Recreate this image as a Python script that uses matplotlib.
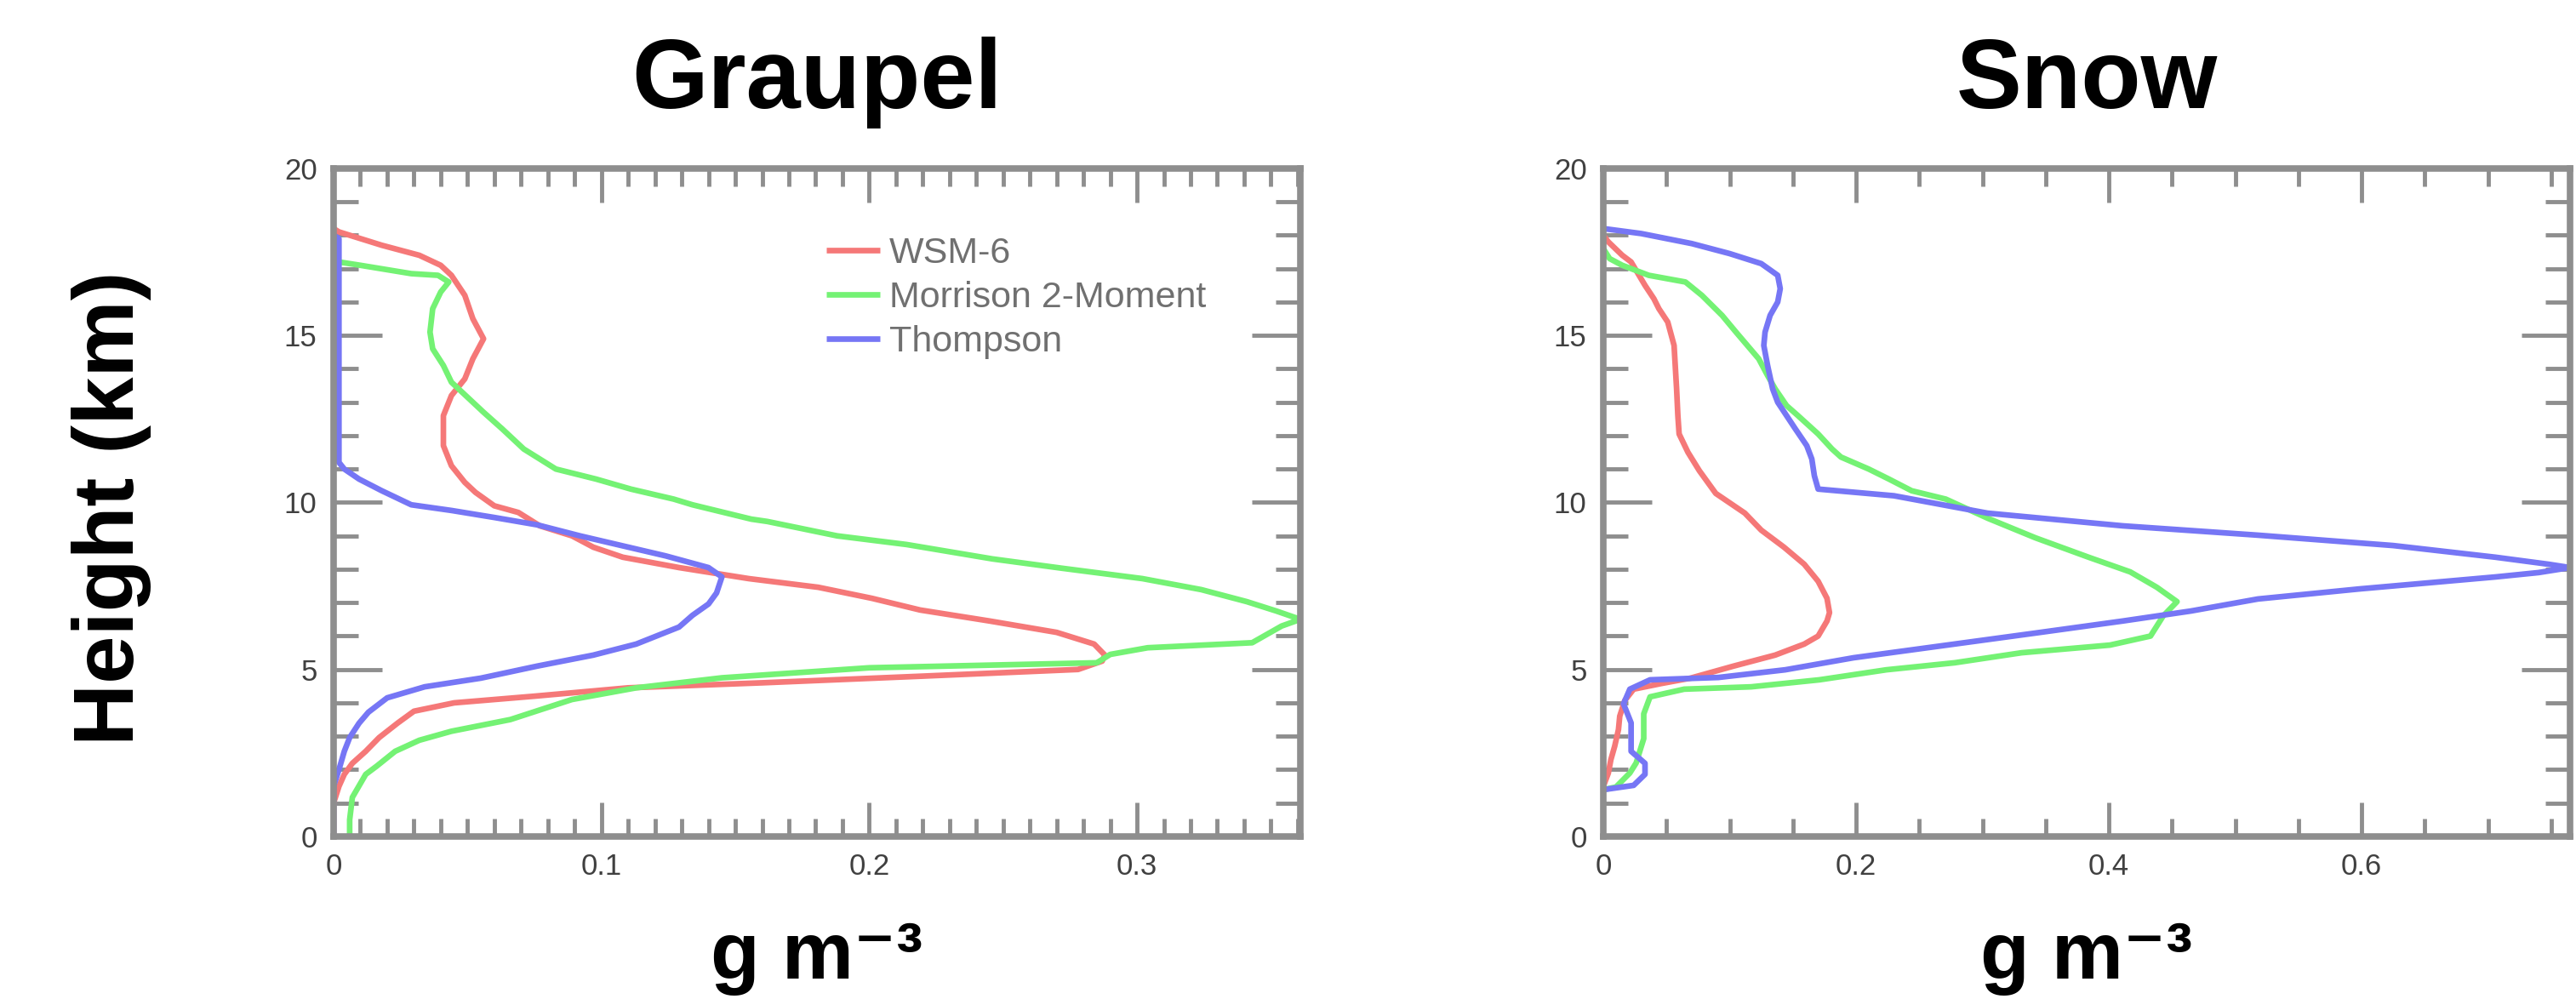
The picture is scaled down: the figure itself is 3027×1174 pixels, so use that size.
import matplotlib
matplotlib.use('Agg')
import matplotlib.pyplot as plt
from matplotlib.ticker import MultipleLocator

plt.rcParams['font.family'] = ['Liberation Sans', 'DejaVu Sans']

scheme_names = ['WSM-6', 'Morrison 2-Moment', 'Thompson']
line_colors = ['#f57878', '#74f274', '#7676f5']

# ---- Graupel profiles (value in g m-3, height in km)
g_wsm6_h = [18.2, 18.1, 17.7, 17.4, 17.1, 16.8, 16.2, 15.5, 14.9, 14.3, 13.7, 13.2,
            12.6, 11.7, 11.1, 10.6, 10.3, 9.9, 9.7, 9.3, 9.0, 8.66, 8.36, 8.05, 7.72,
            7.46, 7.13, 6.78, 6.45, 6.11, 5.76, 5.43, 5.25, 5.0, 4.8, 4.6, 4.45, 4.2,
            4.0, 3.75, 3.4, 2.96, 2.55, 2.19, 1.86, 1.5, 1.0, 0.0]
g_wsm6_x = [0.0, 0.002, 0.018, 0.032, 0.040, 0.044, 0.049, 0.052, 0.056, 0.052, 0.049, 0.044,
            0.041, 0.041, 0.044, 0.049, 0.053, 0.060, 0.069, 0.077, 0.089, 0.097, 0.108, 0.129, 0.155,
            0.181, 0.201, 0.219, 0.245, 0.270, 0.284, 0.288, 0.287, 0.278, 0.22, 0.16, 0.11, 0.075,
            0.045, 0.030, 0.024, 0.017, 0.012, 0.007, 0.004, 0.002, 0.0, 0.0]

g_morr_h = [17.5, 17.2, 17.1, 16.85, 16.8, 16.6, 16.3, 15.8, 15.1, 14.6, 14.1, 13.6, 13.15,
            12.7, 12.2, 11.6, 11.0, 10.7, 10.4, 10.1, 9.93, 9.5, 9.43, 9.0, 8.74, 8.31, 8.03,
            7.72, 7.39, 7.03, 6.75, 6.5, 6.3, 5.8, 5.65, 5.45, 5.2, 5.05, 4.75, 4.45, 4.1,
            3.5, 3.15, 2.88, 2.55, 2.1, 1.86, 1.17, 0.5, 0.0]
g_morr_x = [0.0, 0.002, 0.010, 0.029, 0.039, 0.043, 0.040, 0.037, 0.036, 0.037, 0.041, 0.044, 0.050,
            0.056, 0.063, 0.071, 0.083, 0.098, 0.111, 0.127, 0.134, 0.156, 0.162, 0.188, 0.214, 0.246, 0.272,
            0.302, 0.324, 0.341, 0.352, 0.361, 0.354, 0.343, 0.304, 0.290, 0.285, 0.200, 0.145, 0.113, 0.089,
            0.066, 0.044, 0.032, 0.023, 0.016, 0.012, 0.007, 0.006, 0.006]

g_thom_h = [18.0, 17.9, 11.2, 11.0, 10.7, 10.35, 9.93, 9.76, 9.55, 9.33, 9.0, 8.7, 8.4, 8.05,
            7.77, 7.29, 6.96, 6.62, 6.27, 5.76, 5.43, 5.1, 4.74, 4.48, 4.15, 3.72, 3.39, 2.96,
            2.55, 2.0, 1.5, 0.0]
g_thom_x = [0.0, 0.002, 0.002, 0.004, 0.0095, 0.018, 0.029, 0.044, 0.060, 0.076, 0.092, 0.108, 0.124, 0.140,
            0.145, 0.143, 0.140, 0.134, 0.129, 0.113, 0.097, 0.076, 0.055, 0.034, 0.020, 0.013, 0.0095, 0.006,
            0.004, 0.002, 0.0, 0.0]

# ---- Snow profiles
s_wsm6_h = [18.0, 17.8, 17.4, 17.2, 16.5, 16.1, 15.8, 15.4, 14.7, 13.4, 12.6, 12.05, 11.5,
            10.95, 10.27, 9.68, 9.17, 8.66, 8.15, 7.64, 7.13, 6.7, 6.45, 6.0, 5.76, 5.43, 5.1,
            4.74, 4.58, 4.41, 4.07, 3.6, 3.2, 2.7, 2.3, 1.9, 1.5]
s_wsm6_x = [0.0, 0.004, 0.015, 0.022, 0.033, 0.040, 0.044, 0.051, 0.056, 0.058, 0.059, 0.060, 0.067,
            0.076, 0.089, 0.112, 0.125, 0.143, 0.159, 0.170, 0.177, 0.179, 0.177, 0.170, 0.159, 0.136, 0.103,
            0.069, 0.046, 0.024, 0.017, 0.013, 0.012, 0.009, 0.006, 0.004, 0.0]

s_morr_h = [17.6, 17.3, 17.1, 16.8, 16.6, 16.2, 15.6, 15.1, 14.7, 14.3, 13.8, 13.4, 12.9, 12.6,
            12.05, 11.6, 11.36, 11.0, 10.7, 10.35, 10.1, 9.53, 8.94, 8.36, 7.92, 7.46, 7.03, 6.6,
            6.0, 5.73, 5.5, 5.2, 4.99, 4.69, 4.48, 4.41, 4.18, 3.67, 2.93, 2.2, 1.9, 1.48, 1.4]
s_morr_x = [0.0, 0.005, 0.015, 0.036, 0.065, 0.078, 0.094, 0.105, 0.114, 0.123, 0.130, 0.136, 0.145, 0.154,
            0.170, 0.181, 0.188, 0.210, 0.226, 0.244, 0.271, 0.304, 0.342, 0.384, 0.417, 0.438, 0.454, 0.443,
            0.433, 0.401, 0.331, 0.278, 0.224, 0.171, 0.117, 0.064, 0.037, 0.032, 0.032, 0.026, 0.021, 0.010, 0.0]

s_thom_h = [18.2, 18.05, 17.75, 17.45, 17.15, 16.8, 16.4, 16.0, 15.6, 15.1, 14.7, 14.1, 13.4,
            13.0, 12.6, 12.2, 11.7, 11.3, 10.8, 10.4, 10.2, 9.68, 9.3, 9.02, 8.71, 8.36, 8.15,
            8.05, 7.9, 7.77, 7.41, 7.11, 6.75, 6.45, 6.09, 5.73, 5.35, 4.99, 4.76, 4.69, 4.41,
            3.97, 3.4, 2.88, 2.55, 2.19, 1.86, 1.53, 1.4]
s_thom_x = [0.0, 0.03, 0.07, 0.10, 0.125, 0.138, 0.140, 0.138, 0.132, 0.128, 0.127, 0.130, 0.134,
            0.138, 0.145, 0.152, 0.161, 0.165, 0.167, 0.170, 0.230, 0.304, 0.411, 0.518, 0.625, 0.706, 0.748,
            0.765, 0.740, 0.706, 0.598, 0.518, 0.465, 0.411, 0.342, 0.272, 0.198, 0.144, 0.091, 0.037, 0.021,
            0.016, 0.022, 0.022, 0.022, 0.033, 0.033, 0.024, 0.0]

panel_titles = ['Graupel', 'Snow']
panel_xmax = [0.361, 0.765]
panel_xmajor = [[0, 0.1, 0.2, 0.3], [0, 0.2, 0.4, 0.6]]
panel_xlabels = [['0', '0.1', '0.2', '0.3'], ['0', '0.2', '0.4', '0.6']]
panel_xminor = [0.01, 0.05]
yticks = [0, 5, 10, 15, 20]
ytick_labels = ['0', '5', '10', '15', '20']

graupel = [(g_wsm6_x, g_wsm6_h), (g_morr_x, g_morr_h), (g_thom_x, g_thom_h)]
snow = [(s_wsm6_x, s_wsm6_h), (s_morr_x, s_morr_h), (s_thom_x, s_thom_h)]

fig = plt.figure(figsize=(30.27, 11.74), dpi=100)
ax_left = fig.add_axes([0.1295, 0.1627, 0.3753, 0.6687])
ax_right = fig.add_axes([0.6224, 0.1627, 0.3753, 0.6687])

spine_gray = '#8e8e8e'
for i, (ax, profiles) in enumerate([(ax_left, graupel), (ax_right, snow)]):
    for (xv, hv), name, col in zip(profiles, scheme_names, line_colors):
        ax.plot(xv, hv, color=col, lw=4.8, label=name, solid_capstyle='butt')

    ax.set_xlim(0, panel_xmax[i])
    ax.set_ylim(0, 20)
    ax.set_xticks(panel_xmajor[i])
    ax.set_xticklabels(panel_xlabels[i])
    ax.set_yticks(yticks)
    ax.set_yticklabels(ytick_labels)
    ax.xaxis.set_minor_locator(MultipleLocator(panel_xminor[i]))
    ax.yaxis.set_minor_locator(MultipleLocator(1))

    ax.tick_params(which='both', direction='in', top=True, right=True,
                   color=spine_gray, labelsize=25, labelcolor='#404040', pad=14)
    ax.tick_params(axis='x', which='major', length=29, width=3.5)
    ax.tick_params(axis='x', which='minor', length=15, width=3.5)
    ax.tick_params(axis='y', which='major', length=41, width=3.5)
    ax.tick_params(axis='y', which='minor', length=21, width=3.5)
    for sp in ax.spines.values():
        sp.set_color(spine_gray)
        sp.set_linewidth(5.5)

    ax.set_title(panel_titles[i], fontsize=83, fontweight='bold', pad=51)
    ax.set_xlabel('g m\u207b\u00b3', fontsize=68, fontweight='bold', va='baseline')
    ax.xaxis.set_label_coords(0.5, -0.213)

ax_left.set_ylabel('Height (km)', fontsize=73, fontweight='bold', va='center')
ax_left.yaxis.set_label_coords(-0.2298, 0.4917)

ax_left.legend(loc='upper left', bbox_to_anchor=(0.51, 0.898), frameon=False,
               fontsize=31, handlelength=1.45, handletextpad=0.25, labelspacing=0.28,
               borderpad=0, borderaxespad=0, labelcolor='#707070')

fig.savefig('out.png', dpi=100, facecolor='white')
